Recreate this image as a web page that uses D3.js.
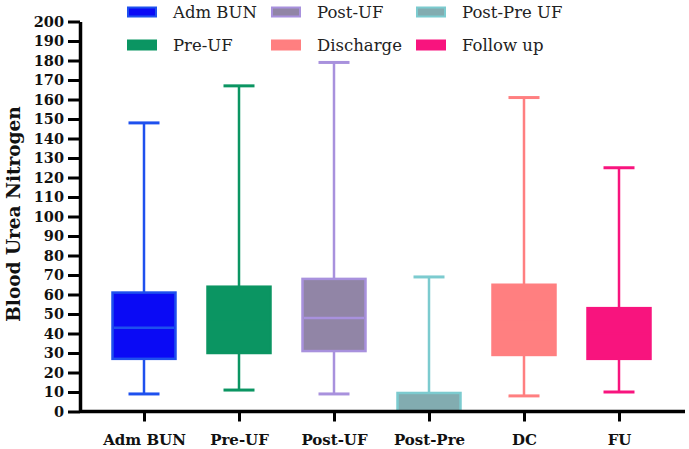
<!DOCTYPE html>
<html><head><meta charset="utf-8">
<script src="https://cdn.jsdelivr.net/npm/d3@7"></script>
<style>body{margin:0;background:#fff}svg{display:block}</style>
</head><body>
<script>
const categories = ["Adm BUN","Pre-UF","Post-UF","Post-Pre","DC","FU"];
const legendLabels = ["Adm BUN","Pre-UF","Post-UF","Discharge","Post-Pre UF","Follow up"];
const minVals = [9, 11, 9, 0, 8, 10];
const q1Vals = [27, 30, 31, 0, 29, 27];
const medVals = [43, 46, 48, 5, 46, 40];
const q3Vals = [61, 64, 68, 9.5, 65, 53];
const maxVals = [148, 167, 179, 69, 161, 125];
const yTicks = d3.range(0, 201, 10);
const fills = ["#0a0af5","#0b9562","#9185a6","#82acb0","#ff7f80","#f8147e"];
const strokes = ["#1e50ee","#0b9562","#a891dd","#7ccbcf","#ff7f80","#f8147e"];
const medianColors = ["#1e50ee","#0b9562","#a891dd","#82acb0","#ff7f80","#f8147e"];
const legendOrder = [0,1,2,4,3,5];

const W=689,H=449;
const svg=d3.select("body").append("svg").attr("width",W).attr("height",H);
const y=d3.scaleLinear().domain([0,200]).range([411.5,21.5]);
const x=d3.scalePoint().domain(categories).range([144,619]);
const boxW=63, capW=31;

categories.forEach((c,i)=>{
  const cx=x(c);
  const g=svg.append("g");
  g.append("line").attr("x1",cx).attr("x2",cx).attr("y1",y(maxVals[i])).attr("y2",y(q3Vals[i]))
    .attr("stroke",strokes[i]).attr("stroke-width",2.5);
  g.append("line").attr("x1",cx).attr("x2",cx).attr("y1",y(q1Vals[i])).attr("y2",y(minVals[i]))
    .attr("stroke",strokes[i]).attr("stroke-width",2.5);
  g.append("line").attr("x1",cx-capW/2).attr("x2",cx+capW/2).attr("y1",y(maxVals[i])).attr("y2",y(maxVals[i]))
    .attr("stroke",strokes[i]).attr("stroke-width",3);
  g.append("line").attr("x1",cx-capW/2).attr("x2",cx+capW/2).attr("y1",y(minVals[i])).attr("y2",y(minVals[i]))
    .attr("stroke",strokes[i]).attr("stroke-width",3);
  g.append("rect").attr("x",cx-boxW/2).attr("width",boxW)
    .attr("y",y(q3Vals[i])).attr("height",y(q1Vals[i])-y(q3Vals[i]))
    .attr("fill",fills[i]).attr("stroke",strokes[i]).attr("stroke-width",2.5);
  g.append("line").attr("x1",cx-boxW/2+1.5).attr("x2",cx+boxW/2-1.5).attr("y1",y(medVals[i])).attr("y2",y(medVals[i]))
    .attr("stroke",medianColors[i]).attr("stroke-width",2.5);
});

const ya=svg.append("g").attr("transform","translate(80,0)")
  .call(d3.axisLeft(y).tickValues(yTicks).tickSize(12).tickSizeOuter(0).tickPadding(4));
ya.select(".domain").attr("stroke-width",3.5);
ya.selectAll(".tick line").attr("stroke-width",3);
ya.selectAll("text").attr("font-family","DejaVu Serif").attr("font-weight","bold").attr("font-size",14.5).attr("fill","#111");
const xa=svg.append("g").attr("transform","translate(0,411.5)")
  .call(d3.axisBottom(x).tickSize(10).tickSizeOuter(0).tickPadding(13));
xa.select(".domain").attr("d","M80,0H685").attr("stroke-width",3.5);
xa.selectAll(".tick line").attr("stroke-width",3);
xa.selectAll("text").attr("font-family","DejaVu Serif").attr("font-weight","bold").attr("font-size",15).attr("fill","#111");

svg.append("text").attr("transform","translate(20,214) rotate(-90)").attr("text-anchor","middle")
  .attr("font-family","DejaVu Serif").attr("font-weight","bold").attr("font-size",18.5).attr("fill","#111")
  .text("Blood Urea Nitrogen");

const colX=[128,272,417], rowY=[12,45];
legendOrder.forEach((k,j)=>{
  const col=Math.floor(j/2), row=j%2;
  const lx=colX[col], ly=rowY[row];
  svg.append("rect").attr("x",lx).attr("y",ly-4.5).attr("width",28).attr("height",9)
    .attr("fill",fills[k]).attr("stroke",strokes[k]).attr("stroke-width",2);
  svg.append("text").attr("x",lx+45).attr("y",ly).attr("dy","0.35em")
    .attr("font-family","DejaVu Serif").attr("font-size",16.5).attr("fill","#222").text(legendLabels[j]);
});
</script>
</body></html>
